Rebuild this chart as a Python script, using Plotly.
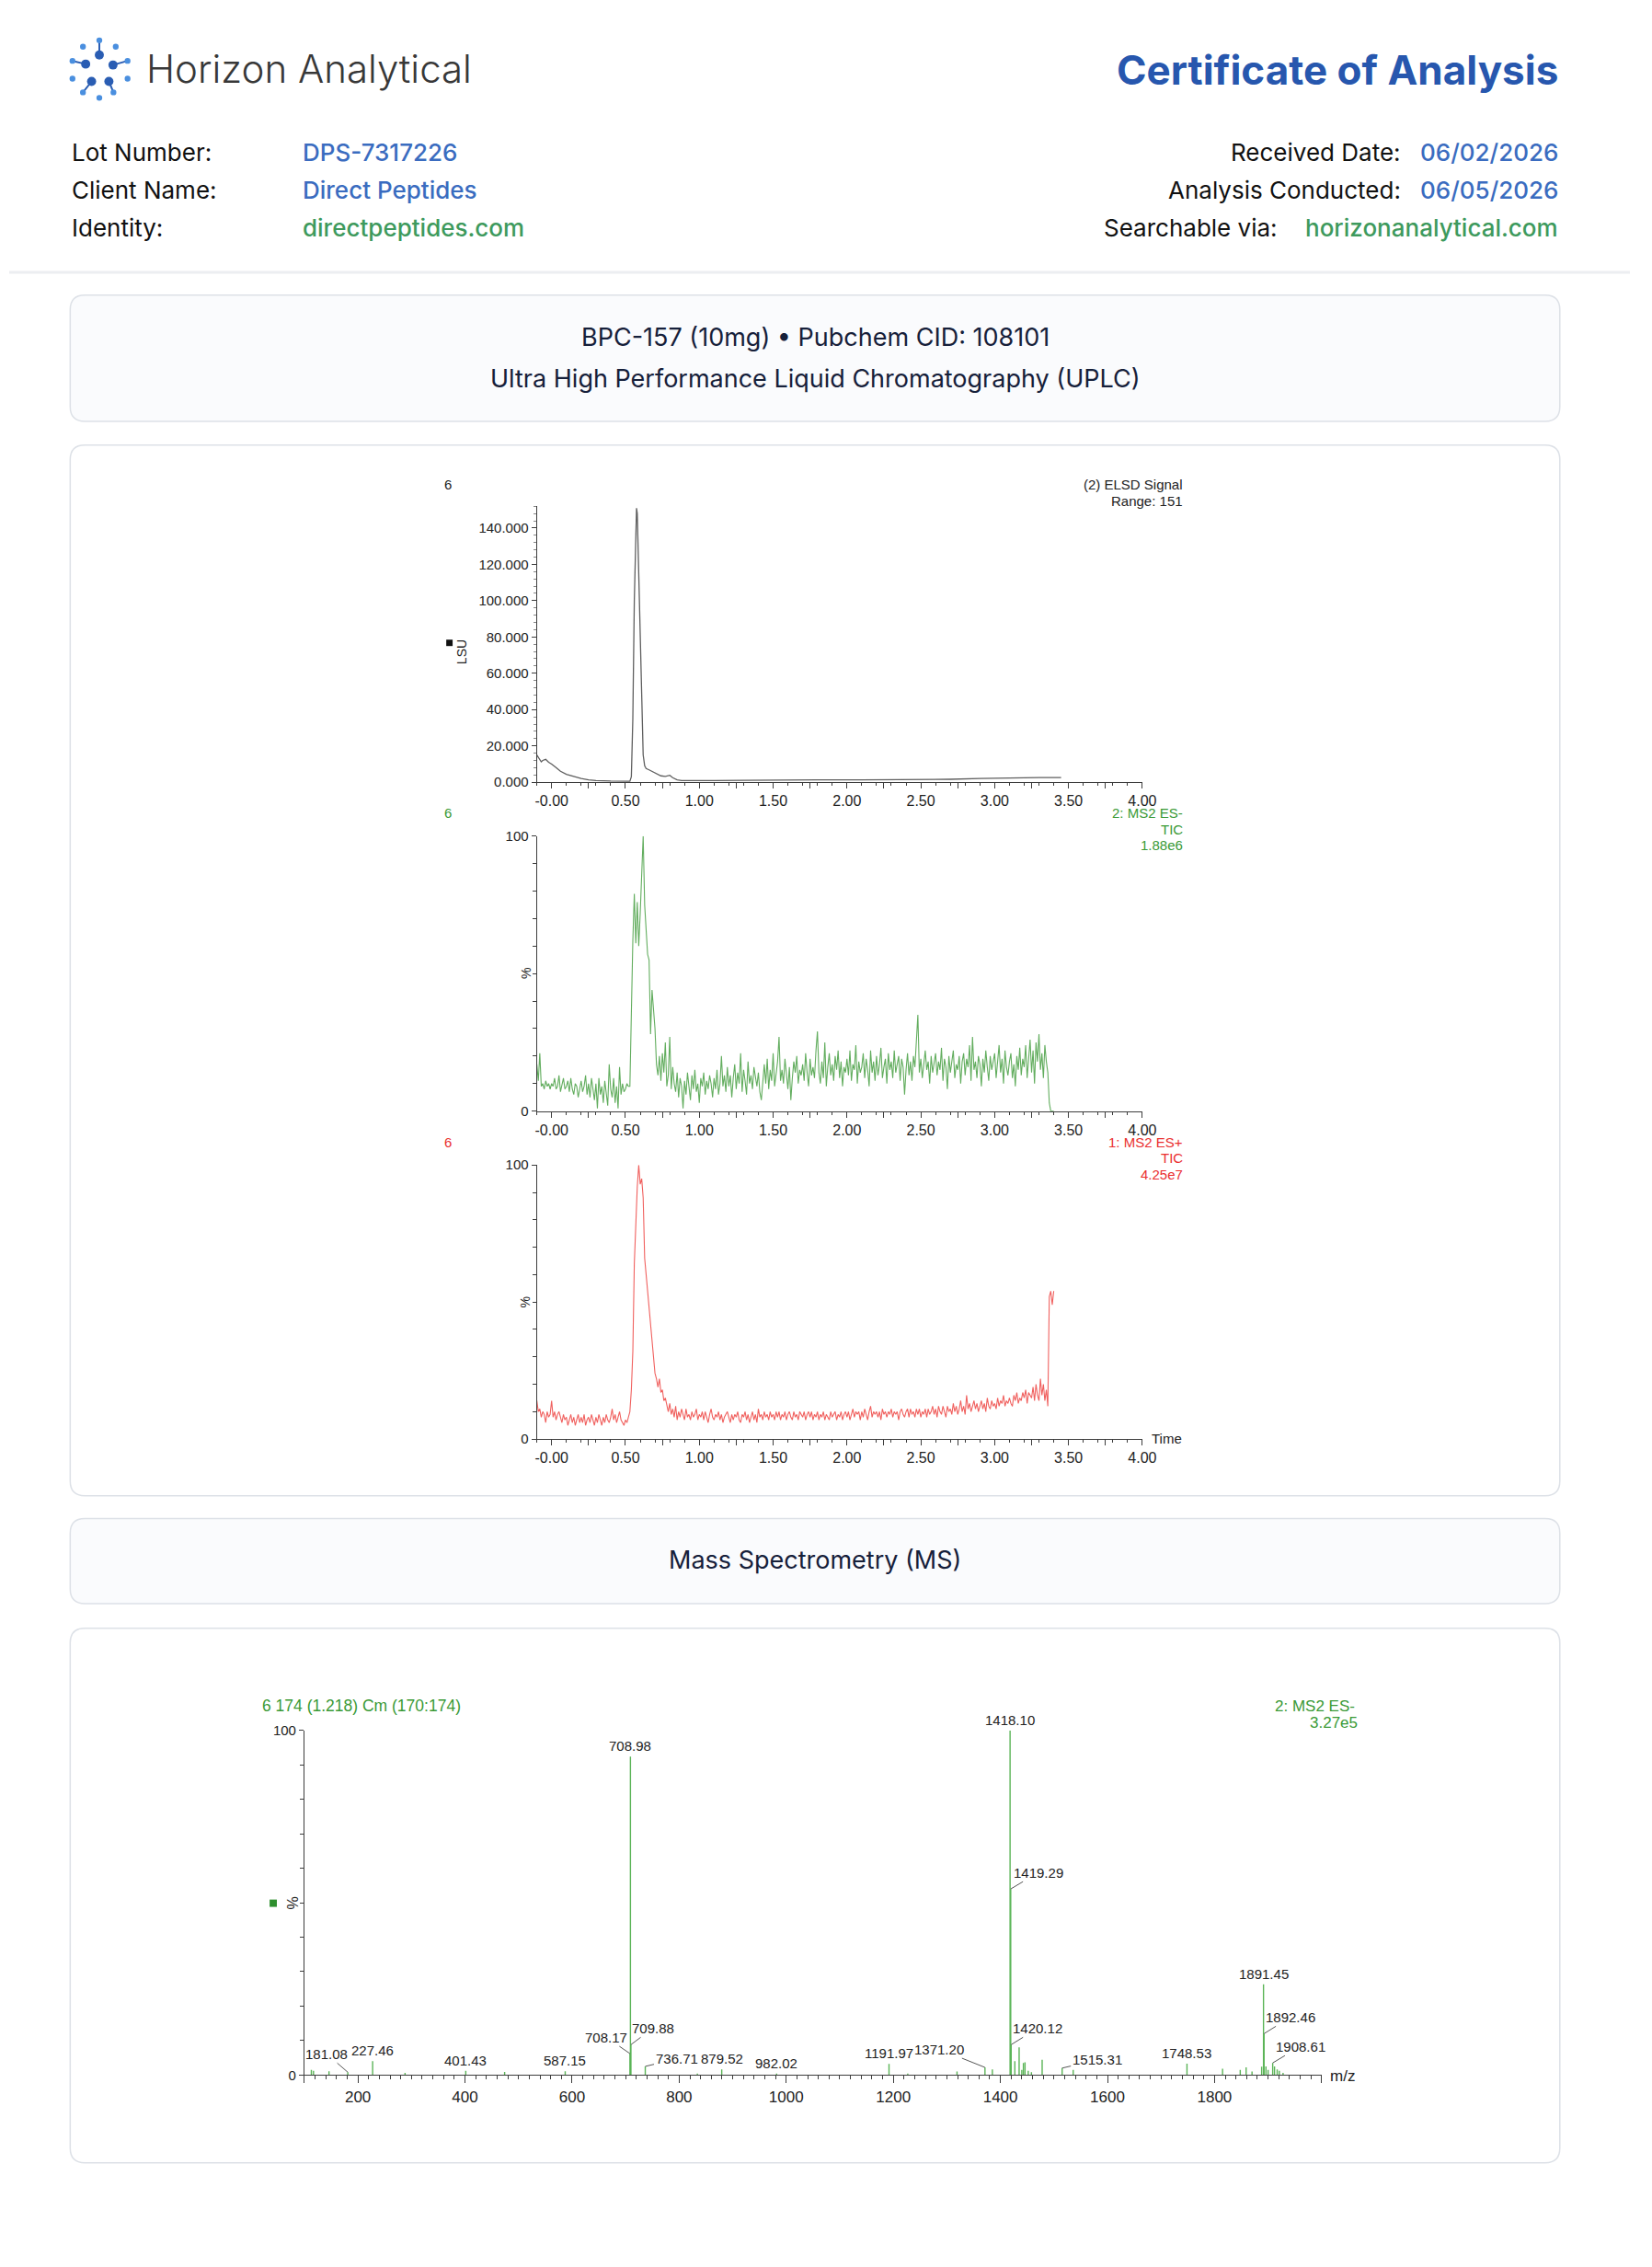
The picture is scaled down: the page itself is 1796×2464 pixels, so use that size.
import plotly.graph_objects as go

# ---------------- header / report text ----------------
COMPANY = "Horizon Analytical"
DOC_TITLE = "Certificate of Analysis"
LEFT_LABELS = ["Lot Number:", "Client Name:", "Identity:"]
LEFT_VALUES = ["DPS-7317226", "Direct Peptides", "directpeptides.com"]
RIGHT_LABELS = ["Received Date:", "Analysis Conducted:", "Searchable via:"]
RIGHT_VALUES = ["06/02/2026", "06/05/2026", "horizonanalytical.com"]
PRODUCT_LINE = "BPC-157 (10mg) \u2022 Pubchem CID: 108101"
UPLC_TITLE = "Ultra High Performance Liquid Chromatography (UPLC)"
MS_TITLE = "Mass Spectrometry (MS)"

# ---------------- chromatogram data ----------------
# ELSD signal (LSU)
elsd_time = [-0.10, -0.08, -0.07, -0.06, -0.04, -0.02, 0.00, 0.03, 0.06, 0.10,
             0.15, 0.20, 0.25, 0.30, 0.40, 0.50, 0.53, 0.54, 0.55, 0.56,
             0.57, 0.575, 0.58, 0.59, 0.60, 0.61, 0.62, 0.63, 0.64, 0.66,
             0.70, 0.74, 0.77, 0.80, 0.82, 0.85, 0.88, 0.95, 1.10, 1.30,
             1.50, 1.80, 2.10, 2.40, 2.70, 2.90, 3.10, 3.20, 3.30, 3.45]
elsd_lsu = [15.0, 12.5, 11.2, 12.0, 12.6, 11.0, 10.0, 8.0, 6.0, 4.3,
            3.0, 2.0, 1.3, 0.9, 0.6, 0.5, 0.5, 3.0, 35.0, 100.0,
            145.0, 151.0, 148.0, 115.0, 75.0, 35.0, 15.0, 9.0, 7.5, 6.8,
            5.0, 3.5, 3.2, 3.8, 2.5, 1.3, 0.9, 0.8, 0.9, 1.0,
            1.2, 1.3, 1.3, 1.4, 1.6, 2.0, 2.4, 2.7, 2.6, 2.5]

# TIC traces (%), one scan every 0.01 min starting at -0.10 min
SCAN_START = -0.10
SCAN_STEP = 0.01
tic_es_neg = [
    17, 11, 21, 9, 10, 8, 11, 9, 10, 8,
    10, 9, 12, 8, 9, 13, 7, 10, 12, 8,
    9, 11, 7, 12, 8, 6, 10, 9, 5, 8,
    11, 7, 9, 13, 6, 10, 5, 12, 8, 4,
    10, 1, 12, 6, 9, 3, 11, 7, 2, 17,
    8, 5, 12, 3, 9, 1, 16, 6, 10, 7,
    8, 10, 9, 9, 40, 62, 79, 61, 76, 60,
    72, 85, 100, 75, 66, 57, 55, 28, 44, 36,
    30, 17, 13, 20, 11, 21, 14, 25, 9, 13,
    27, 8, 16, 10, 7, 14, 5, 12, 9, 1,
    11, 6, 14, 9, 4, 13, 8, 15, 7, 10,
    3, 12, 9, 14, 6, 11, 8, 13, 10, 5,
    12, 8, 15, 6, 10, 20, 9, 13, 7, 16,
    9, 13, 5, 12, 17, 8, 14, 10, 21, 7,
    15, 11, 6, 18, 10, 13, 8, 16, 12, 9,
    14, 7, 4, 12, 17, 10, 19, 8, 15, 11,
    21, 9, 14, 18, 27, 11, 15, 10, 19, 13,
    8, 16, 4, 12, 18, 14, 20, 10, 15, 13,
    17, 11, 21, 14, 9, 19, 13, 16, 12, 22,
    29, 14, 10, 18, 12, 25, 9, 16, 21, 13,
    17, 11, 20, 15, 22, 12, 18, 9, 16, 14,
    19, 13, 22, 11, 17, 15, 24, 10, 18, 14,
    16, 21, 12, 19, 15, 9, 22, 14, 18, 11,
    20, 13, 17, 23, 12, 16, 19, 10, 21, 15,
    18, 12, 22, 14, 17, 20, 11, 19, 16, 6,
    15, 21, 13, 18, 11, 20, 16, 24, 35, 14,
    19, 12, 17, 22, 15, 18, 10, 20, 14, 17,
    21, 13, 18, 15, 23, 11, 19, 16, 8, 20,
    14, 18, 22, 12, 17, 15, 20, 10, 18, 21,
    13, 19, 16, 24, 11, 27, 15, 18, 12, 20,
    17, 9, 19, 14, 22, 16, 11, 20, 15, 18,
    21, 12, 17, 24, 14, 19, 10, 22, 16, 13,
    18, 21, 12, 17, 9, 20, 15, 23, 13, 19,
    16, 24, 12, 20, 26, 14, 22, 10, 25, 18,
    28, 15, 21, 12, 24, 18, 14, 3, 0, 0,
    0]
tic_es_pos = [
    14, 10, 11, 8, 10, 9, 6, 10, 8, 9,
    14, 8, 10, 7, 9, 10, 8, 6, 9, 7,
    8, 5, 7, 9, 6, 8, 5, 7, 9, 6,
    8, 6, 9, 5, 7, 8, 6, 9, 7, 5,
    8, 6, 9, 7, 5, 8, 6, 9, 7, 6,
    8, 11, 7, 9, 6, 8, 10, 7, 6, 5,
    7, 6, 8, 10, 18, 32, 64, 80, 92, 100,
    93, 95, 88, 66, 60, 55, 48, 43, 37, 32,
    24, 22, 19, 22, 17, 18, 14, 15, 12, 10,
    13, 9, 11, 8, 12, 7, 10, 8, 11, 9,
    7, 11, 8, 9, 7, 10, 8, 9, 11, 7,
    9, 8, 10, 7, 10, 8, 6, 9, 11, 8,
    7, 9, 8, 10, 7, 9, 6, 8, 9, 10,
    8, 6, 9, 7, 9, 8, 10, 7, 6, 9,
    8, 10, 7, 9, 6, 8, 10, 7, 9, 6,
    11, 8, 9, 7, 10, 8, 9, 7, 10, 8,
    9, 7, 10, 8, 10, 7, 9, 8, 10, 7,
    9, 10, 8, 7, 10, 8, 9, 7, 10, 9,
    8, 10, 7, 9, 10, 8, 10, 7, 9, 8,
    10, 7, 9, 8, 10, 7, 9, 8, 7, 10,
    8, 9, 10, 7, 9, 8, 10, 7, 9, 10,
    8, 10, 7, 9, 11, 8, 10, 9, 10, 7,
    10, 8, 11, 9, 7, 10, 12, 8, 10, 9,
    10, 8, 10, 7, 11, 9, 10, 8, 10, 9,
    11, 8, 10, 9, 10, 7, 10, 11, 9, 8,
    10, 11, 8, 11, 9, 10, 8, 11, 9, 11,
    8, 10, 9, 11, 8, 11, 9, 10, 12, 9,
    11, 8, 12, 10, 9, 12, 10, 8, 12, 10,
    11, 9, 13, 10, 12, 9, 11, 14, 10, 12,
    9, 16, 11, 13, 10, 12, 14, 11, 13, 10,
    12, 14, 11, 13, 10, 15, 12, 11, 14, 12,
    13, 11, 15, 12, 14, 13, 16, 12, 14, 13,
    15, 13, 12, 16, 14, 17, 13, 15, 14, 17,
    15, 18, 13, 17, 16, 15, 19, 14, 20, 16,
    14, 22, 16, 20, 14, 18, 12, 52, 54, 49,
    54]
scan_time = [round(SCAN_START + SCAN_STEP * i, 2) for i in range(len(tic_es_neg))]

CHROM_TICK_VALUES = [0, 0.25, 0.5, 0.75, 1.0, 1.25, 1.5, 1.75, 2.0, 2.25, 2.5,
                     2.75, 3.0, 3.25, 3.5, 3.75, 4.0]
CHROM_TICK_LABELS = ["-0.00", "", "0.50", "", "1.00", "", "1.50", "", "2.00", "",
                     "2.50", "", "3.00", "", "3.50", "", "4.00"]
ELSD_TICK_VALUES = [0, 20, 40, 60, 80, 100, 120, 140]
ELSD_TICK_LABELS = ["0.000", "20.000", "40.000", "60.000", "80.000", "100.000",
                    "120.000", "140.000"]

# ---------------- mass spectrum data ----------------
spec_mz = [113, 117, 146, 181.08, 227.46, 288, 401.43, 474, 587.15, 708.17,
           708.98, 709.88, 736.71, 834, 879.52, 982.02, 1191.97, 1227, 1319,
           1371.20, 1385, 1418.10, 1419.29, 1420.12, 1427, 1435, 1440, 1443,
           1446, 1452, 1458, 1478, 1515.31, 1536, 1748.53, 1815, 1848, 1859,
           1870, 1888, 1891.45, 1892.46, 1896, 1900, 1908.61, 1912, 1917, 1921,
           1928]
spec_int = [1.5, 1.2, 1.1, 0.8, 4.0, 0.6, 1.2, 0.9, 1.1, 6.2,
            92.4, 8.8, 2.5, 0.4, 1.6, 0.4, 3.2, 0.4, 1.0,
            2.2, 1.6, 100, 54, 8.8, 4.0, 8.0, 1.5, 3.5,
            3.7, 1.2, 0.8, 4.4, 2.0, 1.5, 3.3, 1.8, 1.5, 2.2,
            1.0, 2.4, 26.3, 12.0, 2.5, 1.5, 3.5, 2.5, 1.6, 1.2,
            0.6]
labelled_mz = [181.08, 227.46, 401.43, 587.15, 708.17, 708.98, 709.88, 736.71,
               879.52, 982.02, 1191.97, 1371.20, 1418.10, 1419.29, 1420.12,
               1515.31, 1748.53, 1891.45, 1892.46, 1908.61]
# label placement (pixel offset of the text from the peak) for labels with a leader line
leader_offsets = {181.08: (-23, -20), 708.17: (-26, -18), 709.88: (24, -18),
                  736.71: (34, -8), 1371.20: (-50, -20), 1419.29: (30, -18),
                  1420.12: (29, -18), 1515.31: (38, -9), 1892.46: (29, -18),
                  1908.61: (30, -18)}

# ---------------- page geometry helpers ----------------
W, H = 1780, 2440
OFFX, OFFY = 8, 16
PAGE_FONT = "Inter, Lato, 'Open Sans', sans-serif"
CF = "'Liberation Sans', Arial, sans-serif"
AX = "#3d3d3d"
BLUE = "#2757ae"
LINK_BLUE = "#3a6cc0"
LINK_GREEN = "#3e9a5d"
GREEN_TXT = "#3a9a36"
RED_TXT = "#ea2f2f"


def px(x):
    return (x - OFFX) / W


def py(y):
    return 1 - (y - OFFY) / H


fig = go.Figure()


def txt(x, y, s, size, color, xanchor="left", family=PAGE_FONT, weight=None, angle=0):
    fig.add_annotation(x=px(x), y=py(y), xref="paper", yref="paper", text=s,
                       showarrow=False, xanchor=xanchor, yanchor="middle",
                       textangle=angle,
                       font=dict(family=family, size=size, color=color, weight=weight))


def rrect(x0, y0, x1, y1, r, fill, line):
    p = (f"M {px(x0 + r)},{py(y0)} L {px(x1 - r)},{py(y0)} "
         f"Q {px(x1)},{py(y0)} {px(x1)},{py(y0 + r)} L {px(x1)},{py(y1 - r)} "
         f"Q {px(x1)},{py(y1)} {px(x1 - r)},{py(y1)} L {px(x0 + r)},{py(y1)} "
         f"Q {px(x0)},{py(y1)} {px(x0)},{py(y1 - r)} L {px(x0)},{py(y0 + r)} "
         f"Q {px(x0)},{py(y0)} {px(x0 + r)},{py(y0)} Z")
    fig.add_shape(type="path", path=p, xref="paper", yref="paper", layer="below",
                  fillcolor=fill, line=dict(color=line, width=1.5))


def dot(cx, cy, r, color):
    fig.add_shape(type="circle", xref="paper", yref="paper", layer="above",
                  x0=px(cx - r), x1=px(cx + r), y0=py(cy + r), y1=py(cy - r),
                  fillcolor=color, line=dict(width=0))


def seg(x0, y0, x1, y1, color, width):
    fig.add_shape(type="line", xref="paper", yref="paper", layer="above",
                  x0=px(x0), x1=px(x1), y0=py(y0), y1=py(y1),
                  line=dict(color=color, width=width))


# ---------------- header ----------------
seg(OFFX, 297, OFFX + W, 297, "#eceef1", 3)

# logo mark
DARK_DOT, LIGHT_DOT = "#2a5db3", "#4a8fdf"
seg(107, 43, 107, 59, DARK_DOT, 2)
seg(77.5, 65.5, 92, 69, DARK_DOT, 2)
seg(122, 70, 138, 65.5, DARK_DOT, 2)
seg(98.5, 88, 89, 100, DARK_DOT, 2)
seg(117.5, 88, 122.5, 100, DARK_DOT, 2)
for cx, cy in [(107, 59), (92, 69), (122, 70), (98.5, 88), (117.5, 88)]:
    dot(cx, cy, 5, DARK_DOT)
for cx, cy in [(107, 43), (89, 50), (125, 50), (77.5, 65.5), (138, 65.5),
               (77.5, 85), (138, 85), (89, 100), (122.5, 100), (107, 106)]:
    dot(cx, cy, 3.2, LIGHT_DOT)

txt(157, 74, COMPANY, 42, "#383838", weight=300)
txt(1711, 75, DOC_TITLE, 44, BLUE, xanchor="right", weight=700)

row_y = [166, 207, 248]
left_colors = [LINK_BLUE, LINK_BLUE, LINK_GREEN]
right_colors = [LINK_BLUE, LINK_BLUE, LINK_GREEN]
right_label_x = [1538, 1538, 1403]
for i in range(3):
    txt(75, row_y[i], LEFT_LABELS[i], 26, "#111111", weight=400)
    txt(328, row_y[i], LEFT_VALUES[i], 26, left_colors[i], weight=500)
    txt(right_label_x[i], row_y[i], RIGHT_LABELS[i], 26, "#111111", xanchor="right", weight=400)
    txt(1711, row_y[i], RIGHT_VALUES[i], 26, right_colors[i], xanchor="right", weight=500)

# ---------------- panels ----------------
rrect(75, 322, 1711, 460, 16, "#fafbfd", "#dde1e7")
rrect(75, 486, 1711, 1636, 16, "#ffffff", "#dde1e7")
rrect(75, 1661, 1711, 1754, 16, "#fafbfd", "#dde1e7")
rrect(75, 1781, 1711, 2366, 16, "#ffffff", "#dde1e7")

txt(893, 368, PRODUCT_LINE, 27, "#16203a", xanchor="center", weight=400)
txt(893, 413, UPLC_TITLE, 27, "#16203a", xanchor="center", weight=400)
txt(893, 1706, MS_TITLE, 27, "#16203a", xanchor="center", weight=400)

# ---------------- traces ----------------
fig.add_trace(go.Scatter(x=elsd_time, y=elsd_lsu, mode="lines", xaxis="x", yaxis="y",
                         line=dict(color="#5f5f5f", width=1.3), hoverinfo="skip"))
fig.add_trace(go.Scatter(x=scan_time, y=tic_es_neg, mode="lines", xaxis="x2", yaxis="y2",
                         line=dict(color="#62ad5e", width=1.1), hoverinfo="skip"))
fig.add_trace(go.Scatter(x=scan_time, y=tic_es_pos, mode="lines", xaxis="x3", yaxis="y3",
                         line=dict(color="#f0605e", width=1.1), hoverinfo="skip"))

stick_x, stick_y = [], []
for mz, inten in zip(spec_mz, spec_int):
    stick_x += [mz, mz, None]
    stick_y += [0, inten, None]
fig.add_trace(go.Scatter(x=stick_x, y=stick_y, mode="lines", xaxis="x4", yaxis="y4",
                         line=dict(color="#5bb457", width=1.4), hoverinfo="skip"))

# ---------------- axes ----------------
chrom_minor = [round(-0.1 + 0.1 * k, 2) for k in range(42)]


def chrom_x(anchor):
    return dict(domain=[px(587.5), px(1252.5)], anchor=anchor, range=[-0.1, 4.0],
                tickmode="array", tickvals=CHROM_TICK_VALUES, ticktext=CHROM_TICK_LABELS,
                ticks="outside", ticklen=6, tickwidth=1, tickcolor=AX,
                showline=True, linecolor=AX, linewidth=1, showgrid=False, zeroline=False,
                tickfont=dict(family=CF, size=16, color="#222222"),
                minor=dict(tickmode="array", tickvals=chrom_minor, ticks="outside",
                           ticklen=3, tickcolor=AX, showgrid=False),
                fixedrange=True)


def pct_y(anchor, top, bottom):
    return dict(domain=[py(bottom), py(top)], anchor=anchor, range=[0, 100],
                tickmode="array", tickvals=[0, 100], ticktext=["0", "100"],
                ticks="outside", ticklen=5, tickwidth=1, tickcolor=AX,
                showline=True, linecolor=AX, linewidth=1, showgrid=False, zeroline=False,
                tickfont=dict(family=CF, size=15, color="#222222"),
                minor=dict(tickmode="array", tickvals=[10, 20, 30, 40, 50, 60, 70, 80, 90],
                           ticks="outside", ticklen=4, tickcolor=AX, showgrid=False),
                fixedrange=True)


elsd_y = dict(domain=[py(855), py(553)], anchor="x", range=[0, 152],
              tickmode="array", tickvals=ELSD_TICK_VALUES, ticktext=ELSD_TICK_LABELS,
              ticks="outside", ticklen=5, tickwidth=1, tickcolor=AX,
              showline=True, linecolor=AX, linewidth=1, showgrid=False, zeroline=False,
              tickfont=dict(family=CF, size=15, color="#222222"),
              minor=dict(tickmode="array", tickvals=[4 * k for k in range(39)],
                         ticks="outside", ticklen=3, tickcolor="#888888", showgrid=False),
              fixedrange=True)

spec_ticks = list(range(100, 2001, 100))
spec_ticktext = [str(v) if v % 200 == 0 and v <= 1800 else "" for v in spec_ticks]
spec_x = dict(domain=[px(332.2), px(1449.4)], anchor="y4", range=[100, 2000],
              tickmode="array", tickvals=spec_ticks, ticktext=spec_ticktext,
              ticks="outside", ticklen=8, tickwidth=1, tickcolor=AX,
              showline=True, linecolor=AX, linewidth=1, showgrid=False, zeroline=False,
              tickfont=dict(family=CF, size=17, color="#222222"),
              minor=dict(tickmode="array", tickvals=list(range(120, 2000, 20)),
                         ticks="outside", ticklen=4, tickcolor=AX, showgrid=False),
              fixedrange=True)
spec_y = pct_y("x4", 1893, 2270)

fig.update_layout(
    width=W, height=H, margin=dict(l=0, r=0, t=0, b=0),
    paper_bgcolor="white", plot_bgcolor="rgba(0,0,0,0)",
    showlegend=False, hovermode=False,
    xaxis=chrom_x("y"), yaxis=elsd_y,
    xaxis2=chrom_x("y2"), yaxis2=pct_y("x2", 914, 1215),
    xaxis3=chrom_x("y3"), yaxis3=pct_y("x3", 1274, 1574),
    xaxis4=spec_x, yaxis4=spec_y,
)

# ---------------- chart captions ----------------
txt(490, 529, "6", 15, "#222222", xanchor="center", family=CF)
txt(1299, 529, "(2) ELSD Signal", 15, "#222222", xanchor="right", family=CF)
txt(1299, 547, "Range: 151", 15, "#222222", xanchor="right", family=CF)
txt(505, 712, "LSU", 14, "#222222", xanchor="center", family=CF, angle=-90)
fig.add_shape(type="rect", xref="paper", yref="paper", x0=px(488), x1=px(495),
              y0=py(706), y1=py(699), fillcolor="#111111", line=dict(width=0))

txt(490, 889, "6", 15, GREEN_TXT, xanchor="center", family=CF)
for k, s in enumerate(["2: MS2 ES-", "TIC", "1.88e6"]):
    txt(1299, 889 + 17.5 * k, s, 15, GREEN_TXT, xanchor="right", family=CF)
txt(575, 1064, "%", 14, "#222222", xanchor="center", family=CF, angle=-90)

txt(490, 1249, "6", 15, RED_TXT, xanchor="center", family=CF)
for k, s in enumerate(["1: MS2 ES+", "TIC", "4.25e7"]):
    txt(1299, 1249 + 17.5 * k, s, 15, RED_TXT, xanchor="right", family=CF)
txt(575, 1424, "%", 14, "#222222", xanchor="center", family=CF, angle=-90)
txt(1261, 1573, "Time", 15, "#222222", family=CF)

txt(284, 1866, "6 174 (1.218) Cm (170:174)", 17.5, GREEN_TXT, family=CF)
txt(1488, 1866, "2: MS2 ES-", 17, GREEN_TXT, xanchor="right", family=CF)
txt(1491, 1885, "3.27e5", 17, GREEN_TXT, xanchor="right", family=CF)
txt(320, 2082, "%", 16, "#222222", xanchor="center", family=CF, angle=-90)
fig.add_shape(type="rect", xref="paper", yref="paper", x0=px(294), x1=px(302),
              y0=py(2086), y1=py(2078), fillcolor="#2e8f2e", line=dict(width=0))
txt(1457, 2271, "m/z", 17, "#222222", family=CF)

# peak labels
for mz in labelled_mz:
    inten = spec_int[spec_mz.index(mz)]
    label = f"{mz:.2f}"
    if mz in leader_offsets:
        dx, dy = leader_offsets[mz]
        fig.add_annotation(x=mz, y=inten, xref="x4", yref="y4", text=label,
                           showarrow=True, arrowhead=0, arrowwidth=1, arrowcolor="#555555",
                           ax=dx, ay=dy, standoff=0,
                           font=dict(family=CF, size=15, color="#222222"))
    else:
        fig.add_annotation(x=mz, y=inten, xref="x4", yref="y4", text=label,
                           showarrow=False, yanchor="bottom", yshift=1,
                           font=dict(family=CF, size=15, color="#222222"))

fig.write_html("out.html")
